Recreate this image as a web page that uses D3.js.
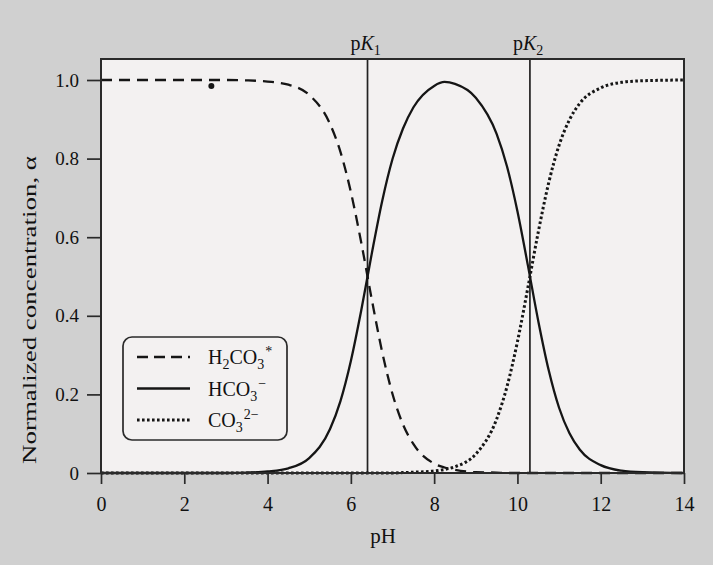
<!DOCTYPE html>
<html>
<head>
<meta charset="utf-8">
<script src="https://cdn.jsdelivr.net/npm/d3@7"></script>
<style>
  html, body { margin: 0; padding: 0; background: #d0d0d0; }
  #wrapper svg { display: block; }
  text { font-family: "Liberation Serif", "Times New Roman", serif; fill: #111; }
</style>
</head>
<body>
<div id="wrapper"></div>
<script>
// data
const phValues = [0, 1, 2, 3, 3.5, 4, 4.5, 5, 5.5, 5.75, 6, 6.25, 6.5, 6.75, 7, 7.25, 7.5, 8, 8.25, 8.5, 9, 9.5, 9.75, 10, 10.25, 10.5, 10.75, 11, 11.25, 11.5, 12, 12.5, 13, 14]
const h2co3 = [1, 1, 1, 1, 0.999, 0.996, 0.988, 0.962, 0.888, 0.817, 0.715, 0.586, 0.443, 0.309, 0.201, 0.124, 0.074, 0.024, 0.014, 0.008, 0.002, 0.001, 0, 0, 0, 0, 0, 0, 0, 0, 0, 0, 0, 0]
const hco3 = [0, 0, 0, 0, 0.001, 0.004, 0.012, 0.038, 0.112, 0.183, 0.285, 0.414, 0.557, 0.691, 0.799, 0.876, 0.93, 0.985, 0.995, 0.99, 0.955, 0.863, 0.78, 0.666, 0.529, 0.387, 0.262, 0.166, 0.101, 0.059, 0.02, 0.006, 0.002, 0]
const co3 = [0, 0, 0, 0, 0, 0, 0, 0, 0, 0, 0, 0, 0, 0, 0, 0.001, 0.002, 0.005, 0.009, 0.016, 0.048, 0.137, 0.22, 0.334, 0.471, 0.613, 0.738, 0.834, 0.899, 0.941, 0.98, 0.994, 0.998, 1]
const pkValues = [6.4, 10.3]
const pkLabels = ["1", "2"]
const xTicks = [0, 2, 4, 6, 8, 10, 12, 14]
const yTicks = [0, 0.2, 0.4, 0.6, 0.8, 1.0]
const strayDots = [[2.65, 0.985]]

function drawChart() {
  const dimensions = {
    width: 713,
    height: 565,
    left: 101,
    right: 684,
    top: 59,
    yOne: 80,
    bottom: 473,
  }

  const wrapper = d3.select("#wrapper")
    .append("svg")
      .attr("width", dimensions.width)
      .attr("height", dimensions.height)

  wrapper.append("rect")
      .attr("width", dimensions.width)
      .attr("height", dimensions.height)
      .attr("fill", "#d0d0d0")

  // scales
  const xScale = d3.scaleLinear()
    .domain([0, 14])
    .range([dimensions.left, dimensions.right])

  const yScale = d3.scaleLinear()
    .domain([0, 1])
    .range([dimensions.bottom, dimensions.yOne])

  // plot panel
  wrapper.append("rect")
      .attr("x", dimensions.left)
      .attr("y", dimensions.top)
      .attr("width", dimensions.right - dimensions.left)
      .attr("height", dimensions.bottom - dimensions.top)
      .attr("fill", "#f3f1f1")

  // pK lines
  wrapper.selectAll(".pk-line")
    .data(pkValues)
    .enter().append("line")
      .attr("class", "pk-line")
      .attr("x1", d => xScale(d))
      .attr("x2", d => xScale(d))
      .attr("y1", dimensions.top)
      .attr("y2", dimensions.bottom)
      .attr("stroke", "#222")
      .attr("stroke-width", 1.7)

  const pkText = wrapper.selectAll(".pk-label")
    .data(pkValues)
    .enter().append("text")
      .attr("class", "pk-label")
      .attr("x", d => xScale(d) - 17)
      .attr("y", 50)
      .style("font-size", "20px")
  pkText.append("tspan").text("p")
  pkText.append("tspan").style("font-style", "italic").text("K")
  pkText.append("tspan")
      .attr("dy", 5)
      .style("font-size", "14px")
      .text((d, i) => pkLabels[i])

  // curves
  const lineGenerator = values => d3.line()
      .x((d, i) => xScale(phValues[i]))
      .y(d => yScale(d))
      .curve(d3.curveMonotoneX)(values)

  const series = [
    { values: h2co3, dash: "11,7", width: 2.3 },
    { values: hco3, dash: null, width: 2.3 },
    { values: co3, dash: "2.6,2.4", width: 3 },
  ]

  wrapper.selectAll(".curve")
    .data(series)
    .enter().append("path")
      .attr("class", "curve")
      .attr("d", d => lineGenerator(d.values))
      .attr("fill", "none")
      .attr("stroke", "#151515")
      .attr("stroke-width", d => d.width)
      .attr("stroke-dasharray", d => d.dash)

  wrapper.selectAll(".stray")
    .data(strayDots)
    .enter().append("circle")
      .attr("cx", d => xScale(d[0]))
      .attr("cy", d => yScale(d[1]))
      .attr("r", 3)
      .attr("fill", "#151515")

  // frame
  wrapper.append("rect")
      .attr("x", dimensions.left)
      .attr("y", dimensions.top)
      .attr("width", dimensions.right - dimensions.left)
      .attr("height", dimensions.bottom - dimensions.top)
      .attr("fill", "none")
      .attr("stroke", "#2a2a2a")
      .attr("stroke-width", 2)

  // axes
  const xAxisGenerator = d3.axisBottom()
    .scale(xScale)
    .tickValues(xTicks)
    .tickSize(11)
    .tickSizeOuter(0)
    .tickPadding(13)

  const xAxis = wrapper.append("g")
      .attr("transform", `translate(0, ${dimensions.bottom})`)
      .call(xAxisGenerator)
  xAxis.select(".domain").remove()
  xAxis.selectAll("line").attr("stroke", "#2a2a2a").attr("stroke-width", 1.7)
  xAxis.selectAll("text")
      .style("font-size", "20px")
      .style("font-family", "Liberation Serif, serif")
      .attr("fill", "#111")

  const yAxisGenerator = d3.axisLeft()
    .scale(yScale)
    .tickValues(yTicks)
    .tickSize(14)
    .tickSizeOuter(0)
    .tickPadding(8)
    .tickFormat(d => d === 0 ? "0" : d3.format(".1f")(d))

  const yAxis = wrapper.append("g")
      .attr("transform", `translate(${dimensions.left}, 0)`)
      .call(yAxisGenerator)
  yAxis.select(".domain").remove()
  yAxis.selectAll("line").attr("stroke", "#2a2a2a").attr("stroke-width", 1.7)
  yAxis.selectAll("text")
      .style("font-size", "19px")
      .style("font-family", "Liberation Serif, serif")
      .attr("fill", "#111")

  // axis labels
  wrapper.append("text")
      .attr("x", 383)
      .attr("y", 543)
      .attr("text-anchor", "middle")
      .style("font-size", "21px")
      .text("pH")

  wrapper.append("text")
      .attr("transform", "translate(36, 310) rotate(-90)")
      .attr("text-anchor", "middle")
      .attr("textLength", 308)
      .attr("lengthAdjust", "spacingAndGlyphs")
      .style("font-size", "19px")
      .text("Normalized concentration, α")

  // legend
  const legend = wrapper.append("g")
      .attr("transform", "translate(123, 337)")

  legend.append("rect")
      .attr("width", 164)
      .attr("height", 103)
      .attr("rx", 9)
      .attr("fill", "#f3f1f1")
      .attr("stroke", "#2a2a2a")
      .attr("stroke-width", 1.7)

  const legendRows = [
    { dash: "11,6", width: 2.4, parts: [["H"], ["2", "sub"], ["CO"], ["3", "sub"], ["*", "sup"]] },
    { dash: null, width: 2.4, parts: [["HCO"], ["3", "sub"], ["\u2212", "sup"]] },
    { dash: "2.6,2.4", width: 3, parts: [["CO"], ["3", "sub"], ["2\u2212", "sup"]] },
  ]

  const rows = legend.selectAll(".legend-row")
    .data(legendRows)
    .enter().append("g")
      .attr("class", "legend-row")
      .attr("transform", (d, i) => `translate(0, ${20 + i * 31.5})`)

  rows.append("line")
      .attr("x1", 14)
      .attr("x2", 67)
      .attr("stroke", "#151515")
      .attr("stroke-width", d => d.width)
      .attr("stroke-dasharray", d => d.dash)

  rows.each(function(d) {
    const label = d3.select(this).append("text")
        .attr("x", 85)
        .attr("y", 7)
        .style("font-size", "20px")
    let shift = 0
    d.parts.forEach(([txt, kind]) => {
      const target = kind === "sub" ? 5 : kind === "sup" ? -8 : 0
      label.append("tspan")
          .attr("dy", target - shift)
          .attr("dx", kind === "sup" ? 1 : 0)
          .style("font-size", kind ? "14px" : "20px")
          .text(txt)
      shift = target
    })
  })
}
drawChart()
</script>
</body>
</html>
